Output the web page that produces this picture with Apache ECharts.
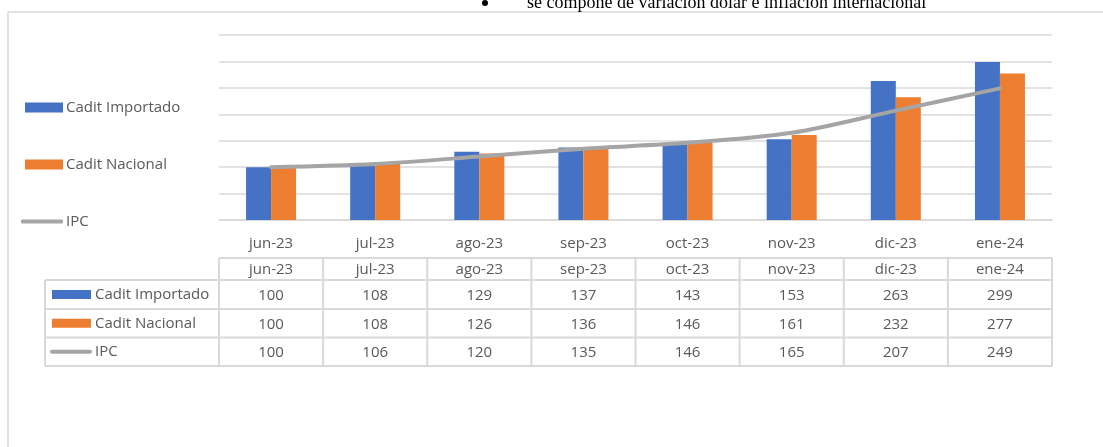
<!DOCTYPE html>
<html><head><meta charset="utf-8">
<script src="https://cdn.jsdelivr.net/npm/echarts@6/dist/echarts.min.js"></script>
<style>html,body{margin:0;padding:0;background:#fff}#c{width:1103px;height:447px}</style>
</head><body><div id="c"></div>
<script>
const categories = ['jun-23','jul-23','ago-23','sep-23','oct-23','nov-23','dic-23','ene-24'];
const caditImportado = [100,108,129,137,143,153,263,299];
const caditNacional = [100,108,126,136,146,161,232,277];
const ipc = [100,106,120,135,146,165,207,249];
const seriesNames = ['Cadit Importado','Cadit Nacional','IPC'];
const seriesColors = ['#4472C4','#ED7D31','#A5A5A5'];
const yMin = 0, yMax = 350, yStep = 50;
const headerText = 'se compone de variación dolar e inflación internacional';

const FONT = '"Open Sans", "Liberation Sans", sans-serif';
const TXT = '#595959';
const GRID = '#d9d9d9';

const chart = echarts.init(document.getElementById('c'), null, {renderer:'canvas'});

function legendItem(i, top){
  const isLine = i === 2;
  return {
    left: isLine ? 16 : 20, top: top, orient:'vertical', selectedMode:false,
    data:[{name: seriesNames[i], icon: isLine ? 'roundRect' : 'rect'}],
    itemWidth: isLine ? 42 : 38, itemHeight: isLine ? 4 : 10,
    textStyle:{fontSize:15, color:TXT, fontFamily:FONT, padding:[0,0,0,-2]}
  };
}

const option = {
  animation:false,
  backgroundColor:'#fff',
  grid:{left:219, right:51, top:35, bottom:227, containLabel:false},
  legend:[legendItem(0,95), legendItem(1,152), legendItem(2,209)],
  xAxis:{
    type:'category', data:categories,
    axisLine:{lineStyle:{color:GRID, width:1.5}},
    axisTick:{show:false},
    axisLabel:{color:TXT, fontSize:15, fontFamily:FONT, margin:16}
  },
  yAxis:{
    type:'value', min:yMin, max:yMax, interval:yStep,
    axisLabel:{show:false}, axisLine:{show:false}, axisTick:{show:false},
    splitLine:{lineStyle:{color:GRID, width:1.5}}
  },
  series:[
    {name:seriesNames[0], type:'bar', data:caditImportado, barWidth:25, barGap:'0%', itemStyle:{color:seriesColors[0]}},
    {name:seriesNames[1], type:'bar', data:caditNacional, barWidth:25, barGap:'0%', itemStyle:{color:seriesColors[1]}},
    {name:seriesNames[2], type:'line', data:ipc, smooth:0.3, symbol:'none', z:5,
     itemStyle:{color:seriesColors[2]}, lineStyle:{color:seriesColors[2], width:4, cap:'round'}}
  ]
};
chart.setOption(option);

function buildTable(){
  const n = categories.length;
  const xs = categories.map(c => chart.convertToPixel({xAxisIndex:0}, c));
  const band = xs[1] - xs[0];
  const x0 = xs[0] - band/2, x1 = xs[n-1] + band/2;
  const tableLeft = 45;
  const rowY = [258, 280, 309, 337.5, 366];
  const els = [];
  const line = (ax,ay,bx,by) => els.push({type:'line', silent:true, shape:{x1:ax,y1:ay,x2:bx,y2:by}, style:{stroke:GRID, lineWidth:2}});
  line(x0, rowY[0], x1, rowY[0]);
  for (let r = 1; r < rowY.length; r++) line(tableLeft, rowY[r], x1, rowY[r]);
  for (let i = 0; i <= n; i++) line(x0 + band*i, rowY[0], x0 + band*i, rowY[4]);
  line(tableLeft, rowY[1], tableLeft, rowY[4]);
  const txt = (s, x, y, align) => els.push({type:'text', silent:true, x:x, y:y, style:{text:s, align:align||'center', verticalAlign:'middle', fontSize:15, fontFamily:FONT, fill:TXT}});
  categories.forEach((c,i) => txt(c, xs[i], (rowY[0]+rowY[1])/2 + 1));
  const rows = [caditImportado, caditNacional, ipc];
  rows.forEach((vals, r) => {
    const cy = (rowY[r+1] + rowY[r+2]) / 2;
    vals.forEach((v,i) => txt(String(v), xs[i], cy + 1));
    if (r < 2) {
      els.push({type:'rect', silent:true, shape:{x:52, y:cy-4.5, width:39, height:9}, style:{fill:seriesColors[r]}});
    } else {
      els.push({type:'line', silent:true, shape:{x1:52, y1:cy, x2:90, y2:cy}, style:{stroke:seriesColors[r], lineWidth:4, lineCap:'round'}});
    }
    txt(seriesNames[r], 95, cy, 'left');
  });
  els.push({type:'line', silent:true, shape:{x1:8, y1:12, x2:1103, y2:12}, style:{stroke:GRID, lineWidth:1.5}});
  els.push({type:'line', silent:true, shape:{x1:8, y1:12, x2:8, y2:447}, style:{stroke:GRID, lineWidth:1.5}});
  els.push({type:'circle', silent:true, shape:{cx:485, cy:3, r:3}, style:{fill:'#000'}});
  els.push({type:'text', silent:true, x:527, y:3.5, style:{text:headerText, align:'left', verticalAlign:'middle', fontSize:18, fontFamily:'"Liberation Serif", "DejaVu Serif", serif', fill:'#000'}});
  chart.setOption({graphic:{elements:els}});
}
buildTable();
</script>
</body></html>
